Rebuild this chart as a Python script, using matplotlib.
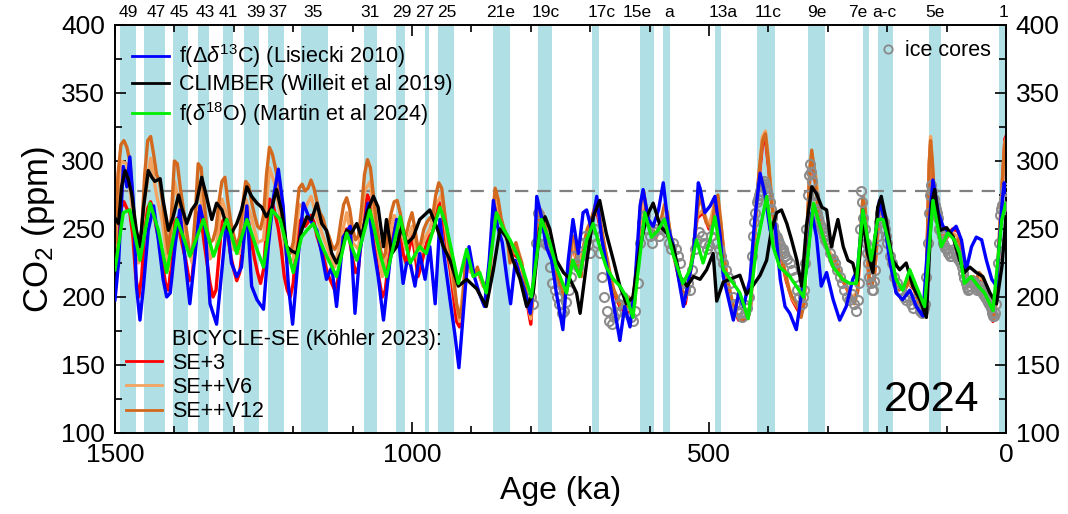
import matplotlib
matplotlib.use('Agg')
import matplotlib.pyplot as plt
import matplotlib.transforms as mtransforms
from matplotlib.lines import Line2D
from matplotlib.ticker import MultipleLocator

plt.rcParams['font.family'] = ['Liberation Sans', 'DejaVu Sans']
plt.rcParams['mathtext.fontset'] = 'custom'
plt.rcParams['mathtext.rm'] = 'Liberation Sans'
plt.rcParams['mathtext.it'] = 'Liberation Sans:italic'

# interglacial bands (ka) and MIS labels on top
bandStart = [1492, 1451, 1403, 1361, 1318, 1283, 1242, 1187, 1081, 1027, 978, 956, 864, 788,
             697, 617, 578, 490, 419, 333, 241, 216, 129, 11]
bandEnd = [1465, 1416, 1377, 1341, 1302, 1258, 1215, 1141, 1059, 1012, 971, 930, 835, 765,
           685, 593, 565, 479, 389, 305, 231, 190, 110, 0]
misLabels = ['49', '47', '45', '43', '41', '39', '37', '35', '31', '29', '27', '25', '21e', '19c',
             '17c', '15e', 'a', '13a', '11c', '9e', '7e', 'a-c', '5e', '1']
misLabelAge = [1478, 1430, 1391, 1348, 1310, 1263, 1226, 1166, 1071, 1017, 978, 941, 851, 774,
               680, 621, 567, 476, 401, 318, 249, 204, 120, 5]

# f(d13C) Lisiecki 2010
blueAge = [1500, 1494, 1486, 1480, 1475, 1469, 1464, 1458, 1452, 1444, 1435, 1427, 1419, 1413, 1407,
           1399, 1391, 1382, 1374, 1365, 1357, 1348, 1340, 1329, 1320, 1312, 1304, 1295, 1287, 1278,
           1270, 1261, 1250, 1242, 1233, 1225, 1217, 1208, 1201, 1191, 1183, 1172, 1160, 1152, 1144,
           1135, 1127, 1116, 1104, 1096, 1088, 1082, 1074, 1065, 1057, 1048, 1037, 1026, 1015, 1009,
           1003, 995, 987, 978, 970, 961, 953, 945, 936, 928, 921, 910, 904, 895, 887, 878, 870, 863,
           856, 848, 840, 834, 826, 818, 809, 801, 796, 790, 782, 774, 765, 757, 746, 737, 729, 720,
           712, 706, 698, 689, 681, 673, 664, 656, 650, 642, 633, 625, 616, 611, 602, 594, 585, 577,
           568, 560, 551, 543, 535, 526, 518, 515, 507, 498, 490, 481, 476, 467, 459, 450, 442, 431,
           423, 414, 406, 397, 389, 380, 372, 364, 353, 344, 336, 327, 319, 311, 302, 291, 280, 269,
           258, 250, 241, 233, 224, 213, 205, 196, 185, 174, 162, 151, 140, 131, 123, 114, 106, 95,
           84, 75, 67, 58, 50, 41, 33, 24, 16, 7, 3, 0]
blueCO2 = [198, 225, 296, 281, 303, 269, 208, 183, 208, 249, 267, 242, 213, 200, 203,
           237, 264, 227, 195, 232, 267, 249, 195, 180, 220, 257, 225, 215, 222, 267,
           208, 198, 191, 237, 274, 294, 267, 208, 180, 232, 269, 257, 249, 232, 213,
           222, 193, 244, 252, 188, 232, 249, 269, 237, 215, 183, 227, 257, 210, 225,
           225, 208, 232, 213, 237, 195, 257, 227, 198, 173, 148, 208, 237, 215, 203, 193, 227, 271,
           252, 240, 213, 195, 227, 215, 203, 188, 208, 274, 259, 237, 227, 203, 176, 227, 257, 232,
           262, 264, 250, 274, 244, 225, 203, 183, 168, 193, 178, 208, 267, 279, 257, 252, 264, 284,
           250, 237, 213, 193, 210, 232, 284, 280, 262, 267, 274, 244, 215, 198, 183, 203, 193, 213,
           257, 291, 276, 249, 254, 213, 193, 188, 176, 203, 220, 262, 244, 208, 218, 198, 183, 193,
           213, 220, 264, 232, 227, 271, 257, 227, 203, 198, 205, 193, 186, 244, 286, 262, 252, 247,
           252, 242, 220, 237, 244, 242, 227, 213, 208, 267, 284, 277]

# CLIMBER Willeit et al 2019
blackAge = [1500, 1494, 1489, 1483, 1478, 1472, 1464, 1458, 1452, 1444, 1438, 1433, 1424, 1419, 1410,
            1402, 1393, 1388, 1379, 1371, 1363, 1354, 1346, 1337, 1329, 1320, 1312, 1304, 1295, 1287,
            1278, 1270, 1261, 1253, 1245, 1236, 1228, 1219, 1211, 1203, 1194, 1186, 1177, 1169, 1160,
            1152, 1144, 1135, 1127, 1118, 1110, 1102, 1093, 1085, 1076, 1065, 1057, 1048, 1043, 1034,
            1026, 1017, 1009, 998, 987, 970, 959, 947, 936, 922, 908, 891, 875, 863, 852, 841, 830,
            818, 807, 796, 785, 776, 768, 757, 745, 734, 723, 717, 706, 695, 684, 673, 661, 650, 639,
            628, 616, 605, 594, 582, 571, 560, 549, 537, 526, 515, 504, 493, 487, 476, 465, 448, 437,
            425, 414, 403, 395, 386, 378, 369, 361, 352, 344, 336, 327, 319, 310, 302, 294, 283, 274,
            266, 258, 250, 241, 233, 224, 216, 210, 202, 191, 179, 168, 157, 145, 134, 125, 120, 111,
            100, 89, 78, 70, 61, 50, 39, 27, 16, 7, 0]
blackCO2 = [258, 254, 281, 293, 287, 276, 249, 237, 266, 293, 288, 285, 287, 271, 249,
            259, 275, 266, 254, 264, 269, 288, 274, 257, 269, 264, 252, 247, 254, 264,
            281, 274, 269, 266, 259, 266, 279, 262, 237, 234, 232, 249, 259, 257, 269,
            254, 249, 232, 225, 234, 249, 247, 254, 244, 262, 274, 266, 237, 257, 232,
            237, 252, 239, 244, 257, 264, 252, 237, 227, 208, 213, 206, 193, 220, 250, 244, 227,
            213, 193, 203, 250, 259, 250, 227, 218, 213, 203, 188, 225, 259, 271, 247, 227, 208, 195,
            200, 237, 259, 269, 252, 247, 237, 215, 208, 215, 213, 220, 232, 197, 211, 213, 216, 202,
            209, 216, 227, 249, 262, 264, 254, 242, 227, 208, 252, 281, 276, 266, 264, 237, 257, 237,
            227, 225, 212, 257, 232, 218, 266, 274, 257, 227, 220, 225, 208, 198, 185, 269, 279, 249,
            251, 244, 227, 218, 222, 218, 215, 203, 195, 222, 259]

# f(d18O) Martin et al 2024
greenAge = [1500, 1486, 1475, 1458, 1441, 1427, 1413, 1396, 1385, 1374, 1351, 1334, 1312, 1295, 1278,
            1261, 1250, 1236, 1222, 1200, 1186, 1177, 1166, 1149, 1127, 1110, 1093, 1071, 1054, 1043,
            1020, 1003, 987, 976, 964, 953, 942, 930, 922, 908, 897, 886, 875, 858, 846, 835, 824,
            813, 799, 782, 768, 757, 740, 729, 718, 706, 695, 684, 673, 661, 650, 639, 628, 608, 597,
            586, 575, 561, 544, 532, 521, 510, 498, 490, 476, 459, 448, 434, 420, 403, 392, 381, 364,
            353, 341, 324, 308, 291, 275, 263, 252, 241, 227, 216, 207, 196, 185, 174, 162, 151, 137,
            123, 109, 98, 87, 78, 70, 59, 47, 36, 22, 7, 0]
greenCO2 = [220, 262, 264, 227, 269, 249, 218, 257, 244, 230, 257, 230, 257, 232, 257,
            235, 222, 264, 257, 218, 244, 249, 254, 235, 215, 247, 227, 264, 232, 215,
            259, 225, 237, 232, 250, 266, 252, 227, 210, 235, 215, 218, 203, 262, 250, 242, 232,
            220, 200, 257, 240, 222, 203, 227, 215, 242, 254, 237, 222, 213, 208, 200, 185, 262, 244,
            249, 257, 232, 210, 220, 242, 225, 242, 259, 220, 210, 203, 184, 237, 274, 237, 222, 215,
            208, 200, 269, 244, 222, 213, 210, 210, 264, 227, 257, 257, 237, 213, 205, 220, 208, 193,
            271, 237, 247, 242, 232, 210, 215, 208, 203, 190, 257, 269]

# BICYCLE-SE (Koehler 2023), three set-ups
v12Age = [1500, 1495, 1490, 1485, 1480, 1475, 1470, 1465, 1460, 1455, 1450, 1445, 1440, 1435, 1430,
          1425, 1420, 1415, 1410, 1405, 1400, 1395, 1390, 1385, 1380, 1375, 1370, 1365, 1360, 1355,
          1350, 1345, 1340, 1335, 1330, 1325, 1320, 1315, 1310, 1305, 1300, 1295, 1290, 1285, 1280,
          1275, 1270, 1265, 1260, 1255, 1250, 1245, 1240, 1235, 1230, 1225, 1220, 1215, 1210, 1205,
          1200, 1195, 1190, 1185, 1180, 1175, 1170, 1165, 1160, 1155, 1150, 1145, 1140, 1135, 1130,
          1125, 1120, 1115, 1110, 1105, 1100, 1095, 1090, 1085, 1080, 1075, 1070, 1065, 1060, 1055,
          1050, 1045, 1040, 1035, 1030, 1025, 1020, 1015, 1010, 1005, 1000, 995, 990, 985, 980,
          975, 970, 965, 960, 955, 950, 945, 940, 935, 930, 925, 920, 915, 910, 905,
          900, 895, 890, 885, 880, 875, 870, 865, 860, 855, 850, 845, 840, 835, 830,
          825, 820, 815, 810, 805, 800, 795, 790, 785, 780, 775, 770, 765, 760, 755,
          750, 745, 740, 735, 730, 725, 720, 715, 710, 705, 700, 695, 690, 685, 680,
          675, 670, 665, 660, 655, 650, 645, 640, 635, 630, 625, 620, 615, 610, 605,
          600, 595, 590, 585, 580, 575, 570, 565, 560, 555, 550, 545, 540, 535, 530,
          525, 520, 515, 510, 505, 500, 495, 490, 485, 480, 475, 470, 465, 460, 455,
          450, 445, 440, 435, 430, 425, 420, 415, 410, 405, 400, 395, 390, 385, 380,
          375, 370, 365, 360, 355, 350, 345, 340, 335, 330, 327, 322, 318, 315, 310,
          305, 300, 295, 290, 285, 280, 275, 270, 265, 260, 255, 250, 245, 241, 237,
          233, 230, 226, 222, 218, 214, 210, 206, 200, 195, 190, 185, 180, 175, 170,
          165, 160, 155, 150, 145, 140, 135, 132, 129, 127, 124, 120, 115, 110, 105,
          100, 95, 90, 85, 80, 75, 70, 65, 60, 55, 50, 45, 40, 35, 30,
          25, 22, 19, 16, 12, 8, 5, 2, 0]
v12CO2 = [240, 290, 312, 315, 310, 300, 270, 245, 235, 250, 290, 315, 318, 305, 290,
          285, 270, 250, 232, 260, 300, 298, 280, 265, 250, 235, 232, 260, 298, 295,
          270, 250, 240, 242, 250, 270, 285, 288, 270, 255, 245, 237, 245, 268, 285,
          282, 270, 260, 252, 250, 260, 290, 310, 305, 295, 285, 265, 245, 235, 232,
          240, 260, 280, 283, 278, 280, 286, 280, 270, 262, 258, 250, 245, 238, 235,
          240, 255, 268, 273, 265, 250, 242, 245, 265, 290, 301, 295, 275, 255, 240,
          228, 232, 250, 262, 270, 271, 262, 250, 245, 255, 262, 250, 235, 240, 250,
          255, 258, 260, 275, 284, 280, 262, 245, 232, 215, 195, 185, 195, 225, 230,
          220, 215, 222, 215, 210, 205, 215, 255, 280, 272, 258, 250, 245, 225, 235,
          240, 232, 225, 210, 195, 187, 210, 250, 265, 262, 250, 240, 232, 225, 215,
          208, 200, 205, 225, 245, 240, 220, 215, 240, 250, 255, 262, 270, 262, 248,
          235, 225, 212, 205, 200, 195, 192, 190, 200, 192, 195, 230, 270, 278, 262,
          255, 250, 245, 250, 258, 268, 262, 245, 235, 225, 215, 205, 200, 210, 225,
          240, 262, 275, 265, 255, 252, 250, 270, 275, 255, 230, 215, 205, 195, 188,
          185, 183, 185, 186, 195, 232, 270, 295, 315, 320, 300, 270, 255, 245, 235,
          225, 215, 205, 200, 197, 192, 185, 195, 250, 295, 308, 290, 270, 260, 250,
          240, 235, 228, 230, 225, 218, 212, 210, 205, 200, 195, 205, 245, 274, 265,
          235, 212, 208, 215, 240, 262, 268, 260, 245, 230, 215, 207, 205, 208, 205,
          210, 215, 208, 200, 195, 190, 200, 250, 300, 315, 300, 270, 255, 245, 240,
          243, 248, 246, 240, 243, 230, 215, 210, 213, 215, 213, 218, 215, 210, 200,
          190, 183, 185, 200, 240, 270, 295, 312, 315]

v6Age = [1500, 1490, 1480, 1470, 1460, 1450, 1440, 1430, 1420, 1410, 1400, 1390, 1380, 1370, 1360,
         1350, 1340, 1330, 1320, 1310, 1300, 1290, 1280, 1270, 1260, 1250, 1240, 1230, 1220, 1210,
         1200, 1190, 1180, 1170, 1160, 1150, 1140, 1130, 1120, 1110, 1100, 1090, 1080, 1070, 1060,
         1050, 1040, 1030, 1020, 1010, 1000, 990, 980, 970, 960, 950, 940, 930, 920, 910,
         900, 890, 880, 870, 860, 850, 840, 830, 820, 810, 800, 790, 780, 770, 760,
         750, 740, 730, 720, 710, 700, 690, 680, 670, 660, 650, 640, 630, 620, 610,
         600, 590, 580, 570, 560, 550, 540, 530, 520, 510, 500, 490, 480, 470, 460,
         450, 440, 430, 420, 410, 405, 400, 390, 380, 370, 360, 350, 340, 330, 327,
         320, 310, 300, 290, 280, 270, 260, 250, 241, 230, 222, 214, 206, 195, 185,
         175, 165, 155, 145, 135, 129, 127, 120, 110, 100, 90, 80, 70, 60, 50,
         40, 30, 22, 16, 8, 2, 0]
v6CO2 = [235, 300, 298, 262, 225, 272, 302, 275, 255, 220, 285, 265, 240, 225, 285,
         258, 228, 235, 272, 258, 235, 232, 272, 258, 240, 242, 295, 282, 255, 225,
         228, 268, 265, 274, 258, 245, 233, 222, 242, 262, 240, 235, 278, 285, 242,
         215, 238, 260, 252, 235, 252, 225, 242, 250, 268, 275, 238, 208, 182, 222,
         218, 220, 208, 214, 275, 256, 244, 234, 230, 207, 184, 248, 262, 240, 224,
         207, 204, 244, 219, 239, 254, 268, 247, 224, 205, 195, 190, 192, 229, 276,
         254, 244, 257, 260, 234, 214, 198, 224, 260, 264, 252, 270, 254, 214, 195,
         185, 185, 194, 270, 318, 322, 300, 254, 234, 214, 199, 192, 195, 294, 305,
         288, 250, 235, 229, 217, 209, 199, 204, 272, 211, 214, 261, 259, 229, 206,
         208, 210, 207, 194, 199, 300, 318, 269, 245, 244, 247, 244, 214, 212, 213,
         214, 199, 183, 199, 269, 314, 316]

redAge = [1500, 1495, 1490, 1485, 1480, 1475, 1470, 1465, 1460, 1455, 1450, 1445, 1440, 1435, 1430,
          1425, 1420, 1415, 1410, 1405, 1400, 1395, 1390, 1385, 1380, 1375, 1370, 1365, 1360, 1355,
          1350, 1345, 1340, 1335, 1330, 1325, 1320, 1315, 1310, 1305, 1300, 1295, 1290, 1285, 1280,
          1275, 1270, 1265, 1260, 1255, 1250, 1245, 1240, 1235, 1230, 1225, 1220, 1215, 1210, 1205,
          1200, 1195, 1190, 1185, 1180, 1175, 1170, 1165, 1160, 1155, 1150, 1145, 1140, 1135, 1130,
          1125, 1120, 1115, 1110, 1105, 1100, 1095, 1090, 1085, 1080, 1075, 1070, 1065, 1060, 1055,
          1050, 1045, 1040, 1035, 1030, 1025, 1020, 1015, 1010, 1005, 1000, 995, 990, 985, 980,
          975, 970, 965, 960, 955, 950, 945, 940, 935, 930, 925, 920, 915,
          910, 900, 890, 880, 870, 860, 850, 840, 830, 820, 810, 800, 790, 780, 770,
          760, 750, 740, 730, 720, 710, 700, 690, 680, 670, 660, 650, 640, 630, 620,
          610, 600, 590, 580, 570, 560, 550, 540, 530, 520, 510, 500, 490, 480, 470,
          460, 450, 440, 430, 420, 410, 405, 400, 390, 380, 370, 360, 350, 340, 330,
          327, 320, 310, 300, 290, 280, 270, 260, 250, 241, 230, 222, 214, 206, 195,
          185, 175, 165, 155, 145, 135, 129, 127, 120, 110, 100, 90, 80, 70, 60,
          50, 40, 30, 22, 16, 8, 2, 0]
redCO2 = [215, 250, 265, 270, 265, 262, 245, 215, 200, 215, 250, 265, 270, 262, 250,
          240, 225, 210, 205, 225, 255, 258, 245, 235, 225, 212, 215, 240, 262, 258,
          240, 225, 210, 200, 205, 230, 255, 258, 245, 230, 220, 212, 218, 238, 258,
          255, 240, 228, 218, 210, 220, 250, 272, 270, 260, 250, 235, 215, 205, 200,
          210, 235, 255, 258, 252, 255, 260, 255, 245, 238, 232, 222, 215, 210, 205,
          212, 230, 245, 250, 242, 228, 218, 222, 245, 265, 275, 270, 250, 228, 212,
          200, 205, 225, 240, 250, 255, 245, 232, 225, 235, 245, 232, 215, 222, 232,
          240, 245, 248, 262, 270, 265, 248, 232, 218, 200, 182, 178, 188,
          222, 218, 220, 208, 212, 268, 255, 242, 232, 228, 205, 180, 245, 258, 238,
          222, 205, 203, 242, 218, 238, 252, 265, 245, 222, 203, 193, 188, 190, 228,
          272, 252, 243, 255, 258, 232, 212, 195, 222, 258, 262, 250, 268, 252, 212,
          193, 183, 183, 192, 268, 312, 316, 296, 252, 232, 212, 198, 190, 195, 292,
          300, 282, 248, 233, 228, 216, 208, 198, 203, 270, 210, 213, 258, 258, 228,
          205, 208, 210, 206, 193, 198, 298, 312, 268, 245, 245, 250, 248, 213, 212,
          212, 213, 198, 182, 198, 268, 316, 318]

# Antarctic ice cores
iceAge = [800, 796, 792, 788, 784, 780, 776, 772, 768, 764, 760, 756, 752, 748, 744, 740, 736, 732,
          728, 724, 720, 716, 712, 708, 704, 700, 696, 692, 688, 684, 680, 676, 672, 668, 664, 660,
          656, 652, 648, 644, 640, 636, 632, 628, 624, 620, 616, 612, 608, 604, 600, 596, 592, 588,
          584, 580, 576, 572, 568, 564, 560, 556, 552, 548, 544, 540, 536, 532, 528, 524, 520, 516,
          512, 508, 504, 500, 496, 492, 488, 484, 480, 476, 472, 468, 464, 460, 456, 452, 448, 444,
          440, 436, 432, 428, 426, 424, 422, 420, 418, 416, 414, 412, 410, 408, 406, 404, 402, 400,
          398, 396, 394, 392, 390, 388, 386, 384, 382, 380, 378, 376, 374, 372,
          368, 364, 360, 356, 352, 348, 344, 342, 340, 338, 336, 334, 332, 330, 328, 326, 324, 322,
          320, 318, 316, 314, 312, 310, 308, 306, 304, 302,
          300, 296, 292, 288, 284, 280, 276, 272, 268, 264, 260, 256, 252, 250, 248, 246, 244, 242, 240,
          238, 236, 234, 232, 230, 228, 226, 224, 222, 220, 218, 216, 214, 212, 210, 208, 206, 204,
          202, 200, 196, 192, 188, 184, 180, 176, 172, 168,
          164, 160, 156, 152, 148, 144, 142, 140, 138, 136, 134, 132, 130, 128, 126, 124, 122, 120,
          118, 116, 114, 112, 110, 108, 106, 104, 102, 100, 98, 96, 94, 92, 90, 88, 86, 84, 82, 80,
          78, 76, 74, 72, 70, 68, 66, 64, 62, 60, 58, 56, 54, 52, 50, 48, 46, 44, 42, 40, 38, 36,
          34, 32, 30, 28, 26, 24, 22, 20, 18, 16, 14, 12, 10, 8, 6, 4, 2, 0]
iceCO2 = [200, 195, 240, 262, 258, 245, 240, 238, 222, 210, 205, 200, 195, 188, 190, 196, 205, 215,
          230, 225, 222, 230, 240, 245, 238, 232, 245, 250, 240, 232, 215, 200, 190, 182, 180, 185,
          188, 195, 190, 200, 195, 188, 185, 182, 190, 210, 240, 255, 260, 250, 245, 240, 248, 250,
          245, 250, 255, 248, 240, 235, 240, 235, 230, 225, 210, 205, 210, 205, 220, 235, 242, 248,
          245, 240, 235, 238, 245, 250, 240, 235, 230, 225, 220, 215, 210, 200, 195, 190, 188, 185,
          188, 192, 200, 230, 245, 255, 262, 270, 272, 275, 278, 282, 284, 285, 283, 280, 278, 275,
          270, 265, 258, 252, 248, 245, 244, 242, 240, 238, 236, 235, 232, 230,
          228, 225, 220, 215, 205, 200, 195, 200, 205, 225, 250, 275, 290, 298, 292, 285, 275, 270,
          265, 262, 258, 255, 252, 250, 248, 245, 242, 240,
          238, 232, 228, 225, 220, 215, 210, 205, 200, 198, 202, 195, 190, 198, 210, 250, 278, 270, 258,
          250, 240, 232, 225, 215, 210, 205, 205, 212, 220, 235, 245, 255, 262, 258, 258, 255, 250,
          245, 240, 230, 225, 215, 210, 205, 205, 200, 198,
          200, 195, 192, 198, 195, 190, 188, 190, 192, 195, 215, 240, 262, 275, 282, 278, 272, 268,
          265, 262, 258, 250, 248, 245, 240, 238, 236, 235, 232, 232, 230, 230, 232, 235, 234, 232, 230, 228,
          226, 225, 222, 218, 214, 210, 207, 205, 206, 208, 210, 212, 211, 210, 207, 205, 206, 208, 206, 205,
          202, 200, 199, 198, 196, 195, 192, 188, 186, 186, 188, 195, 225, 240, 260, 265, 268, 272, 278, 280]

fig = plt.figure(figsize=(10.68, 5.14), dpi=100)
ax = fig.add_axes([115 / 1068, 1 - 433 / 514, 891 / 1068, 408 / 514])
ax.set_xlim(1500, 0)
ax.set_ylim(100, 400)

for a0, a1 in zip(bandStart, bandEnd):
    ax.axvspan(a0, a1, color='#b0e0e6', lw=0, zorder=0)
ax.axhline(278, color='#808080', ls=(0, (6, 4)), lw=1.6, zorder=1)

lw = 2.4
ax.plot(redAge, redCO2, color='#ff0000', lw=lw, zorder=2)
ax.plot(v6Age, v6CO2, color='#f4a460', lw=lw, zorder=2)
ax.plot(v12Age, v12CO2, color='#d2691e', lw=lw, zorder=2)
ax.plot(iceAge, iceCO2, ls='none', marker='o', ms=6.5, mfc='none', mec='#8c8c8c', mew=1.5, zorder=3)
ax.plot(blueAge, blueCO2, color='#0000ff', lw=lw, zorder=4)
ax.plot(blackAge, blackCO2, color='black', lw=lw, zorder=5)
ax.plot(greenAge, greenCO2, color='#00ee00', lw=lw, zorder=6)

# axes, ticks
ax.xaxis.set_major_locator(MultipleLocator(500))
ax.xaxis.set_minor_locator(MultipleLocator(100))
ax.yaxis.set_major_locator(MultipleLocator(50))
ax.yaxis.set_minor_locator(MultipleLocator(25))
ax.tick_params(which='both', direction='in', top=True, right=True, labelright=True, width=1.2)
ax.tick_params(which='major', length=8, labelsize=19, pad=7)
ax.tick_params(which='minor', length=5)
for s in ax.spines.values():
    s.set_linewidth(1.4)
ax.set_xlabel('Age (ka)', fontsize=23, labelpad=7)
ax.set_ylabel('CO$_2$ (ppm)', fontsize=25, labelpad=3)

trans = mtransforms.blended_transform_factory(ax.transData, ax.transAxes)
for lab, age in zip(misLabels, misLabelAge):
    ax.text(age, 1.012, lab, transform=trans, ha='center', va='bottom', fontsize=12.5)

ax.text(0.917, 0.08, '2024', transform=ax.transAxes, ha='center', va='center', fontsize=31)

# legends
h1 = [Line2D([], [], color='#0000ff', lw=2), Line2D([], [], color='black', lw=2),
      Line2D([], [], color='#00ee00', lw=2)]
l1 = [r'f($\Delta\delta^{13}$C) (Lisiecki 2010)', 'CLIMBER (Willeit et al 2019)',
      r'f($\delta^{18}$O) (Martin et al 2024)']
leg1 = ax.legend(h1, l1, loc='upper left', frameon=False, fontsize=15.5, handlelength=1.7,
                 labelspacing=0.2, borderaxespad=0.4, handletextpad=0.45)
ax.add_artist(leg1)

h2 = [Line2D([], [], color='none'), Line2D([], [], color='#ff0000', lw=2),
      Line2D([], [], color='#f4a460', lw=2), Line2D([], [], color='#d2691e', lw=2)]
l2 = ['BICYCLE-SE (Köhler 2023):', 'SE+3', 'SE++V6', 'SE++V12']
leg2 = ax.legend(h2, l2, loc='lower left', frameon=False, fontsize=15.5, handlelength=1.7,
                 labelspacing=0.15, borderaxespad=0.1, handletextpad=0.45)
ax.add_artist(leg2)

h3 = [Line2D([], [], ls='none', marker='o', ms=6, mfc='none', mec='#888888', mew=1.3)]
ax.legend(h3, ['ice cores'], loc='upper right', frameon=False, fontsize=15.5, handlelength=0.8,
          borderaxespad=0.3, handletextpad=0.4)

plt.savefig('out.png', dpi=100)
